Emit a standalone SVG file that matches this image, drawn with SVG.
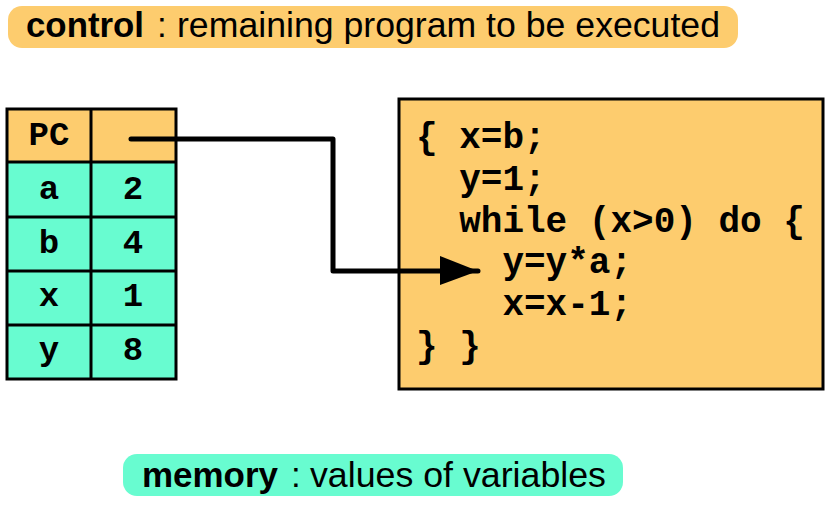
<svg xmlns="http://www.w3.org/2000/svg" width="831" height="506" viewBox="0 0 831 506">
<style>
.lbl{font-family:"Liberation Sans",Arial,sans-serif;font-size:35px;fill:#000}
.b{font-weight:bold}
.mono{font-family:"Liberation Mono","Courier New",monospace;font-weight:bold;font-size:36px;fill:#000;white-space:pre}
.cell{stroke:#000;stroke-width:3}
.org{fill:#FDCC6E}
.tea{fill:#68FCD0}
.conn{fill:none;stroke:#000;stroke-width:5;stroke-linecap:round;stroke-linejoin:round}
</style>
<defs>
<marker id="ah" markerUnits="userSpaceOnUse" markerWidth="40" markerHeight="30" refX="38" refY="15" orient="auto">
<path d="M0,0 L38,15 L0,29 Z" fill="#000"/>
</marker>
</defs>

<g id="control-label">
<rect x="8" y="6" width="730" height="42" rx="14" class="org"/>
<text class="lbl" y="37"><tspan x="26" class="b" textLength="118" lengthAdjust="spacingAndGlyphs">control</tspan><tspan x="157">:</tspan><tspan x="177" textLength="543" lengthAdjust="spacingAndGlyphs">remaining program to be executed</tspan></text>
</g>

<g id="memory-table">
<rect x="7" y="109" width="169" height="53" class="org"/>
<rect x="7" y="162" width="169" height="217" class="tea"/>
<g class="cell" fill="none">
<rect x="7" y="109" width="169" height="270"/>
<line x1="91" y1="109" x2="91" y2="379"/>
<line x1="7" y1="162" x2="176" y2="162"/>
<line x1="7" y1="217" x2="176" y2="217"/>
<line x1="7" y1="271" x2="176" y2="271"/>
<line x1="7" y1="325" x2="176" y2="325"/>
</g>
<g class="mono" text-anchor="middle" style="font-size:34px">
<text x="49" y="145">PC</text>
<text x="49" y="199">a</text><text x="133" y="199">2</text>
<text x="49" y="253">b</text><text x="133" y="253">4</text>
<text x="49" y="306">x</text><text x="133" y="306">1</text>
<text x="49" y="360">y</text><text x="133" y="360">8</text>
</g>
</g>

<g id="program">
<rect x="399" y="99" width="424" height="290" class="org" stroke="#000" stroke-width="3"/>
<text class="mono" x="416" y="148">{ x=b;</text>
<text class="mono" x="416" y="190">  y=1;</text>
<text class="mono" x="416" y="232">  while (x&gt;0) do {</text>
<text class="mono" x="416" y="273">    y=y*a;</text>
<text class="mono" x="416" y="315">    x=x-1;</text>
<text class="mono" x="416" y="357">} }</text>
</g>

<g id="connectors">
<path class="conn" d="M131,139 H333 V271 H478" marker-end="url(#ah)"/>
</g>

<g id="memory-label">
<rect x="123" y="454" width="500" height="42" rx="14" class="tea"/>
<text class="lbl" y="487"><tspan x="142" class="b" textLength="136" lengthAdjust="spacingAndGlyphs">memory</tspan><tspan x="291">:</tspan><tspan x="310" textLength="296" lengthAdjust="spacingAndGlyphs">values of variables</tspan></text>
</g>
</svg>
